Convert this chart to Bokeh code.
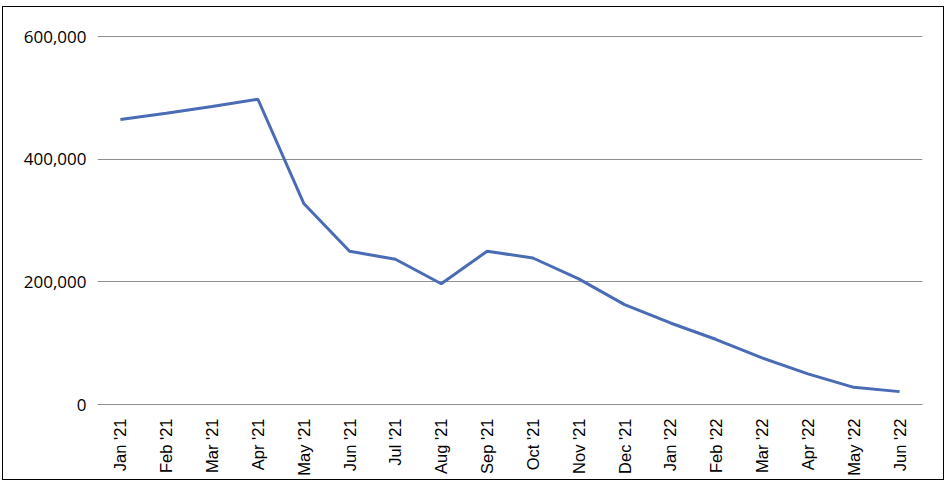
from bokeh.plotting import figure
from bokeh.models import FixedTicker, NumeralTickFormatter
from bokeh.embed import file_html
from bokeh.resources import INLINE
import math

months = ["Jan '21", "Feb '21", "Mar '21", "Apr '21", "May '21", "Jun '21", "Jul '21",
          "Aug '21", "Sep '21", "Oct '21", "Nov '21", "Dec '21", "Jan '22", "Feb '22",
          "Mar '22", "Apr '22", "May '22", "Jun '22"]
values = [465000, 475000, 486000, 498000, 328000, 250000, 237000, 197000, 250000,
          239000, 205000, 163000, 133000, 106000, 76000, 50000, 28000, 21000]
y_ticks = [0, 200000, 400000, 600000]

p = figure(x_range=months, y_range=(0, 602000), width=942, height=474,
           output_backend="svg", toolbar_location=None,
           min_border_left=94, min_border_right=23, min_border_top=28, min_border_bottom=77,
           margin=(6, 0, 0, 2),
           styles={"border": "1px solid black"})
p.x_range.range_padding = 0
p.outline_line_color = None

p.line(months, values, line_color="#4a6bb5", line_width=3)

p.xgrid.grid_line_color = None
p.ygrid.grid_line_color = "#8f8f8f"
p.ygrid.grid_line_width = 1
p.yaxis.ticker = FixedTicker(ticks=y_ticks)
p.yaxis.formatter = NumeralTickFormatter(format="0,0")
p.yaxis.axis_line_color = None
p.yaxis.major_tick_line_color = None
p.yaxis.minor_tick_line_color = None
p.yaxis.major_label_standoff = 5
p.yaxis.major_label_text_font = "Open Sans"
p.yaxis.major_label_text_font_size = "17px"
p.yaxis.major_label_text_color = "#000000"

p.xaxis.axis_line_color = "#8f8f8f"
p.xaxis.major_tick_line_color = None
p.xaxis.minor_tick_line_color = None
p.xaxis.major_label_orientation = math.pi / 2
p.xaxis.major_label_standoff = 8
p.xaxis.major_label_text_font = "Liberation Sans"
p.xaxis.major_label_text_font_size = "16.5px"
p.xaxis.major_label_text_color = "#000000"

open("out.html", "w").write(file_html(p, INLINE))
